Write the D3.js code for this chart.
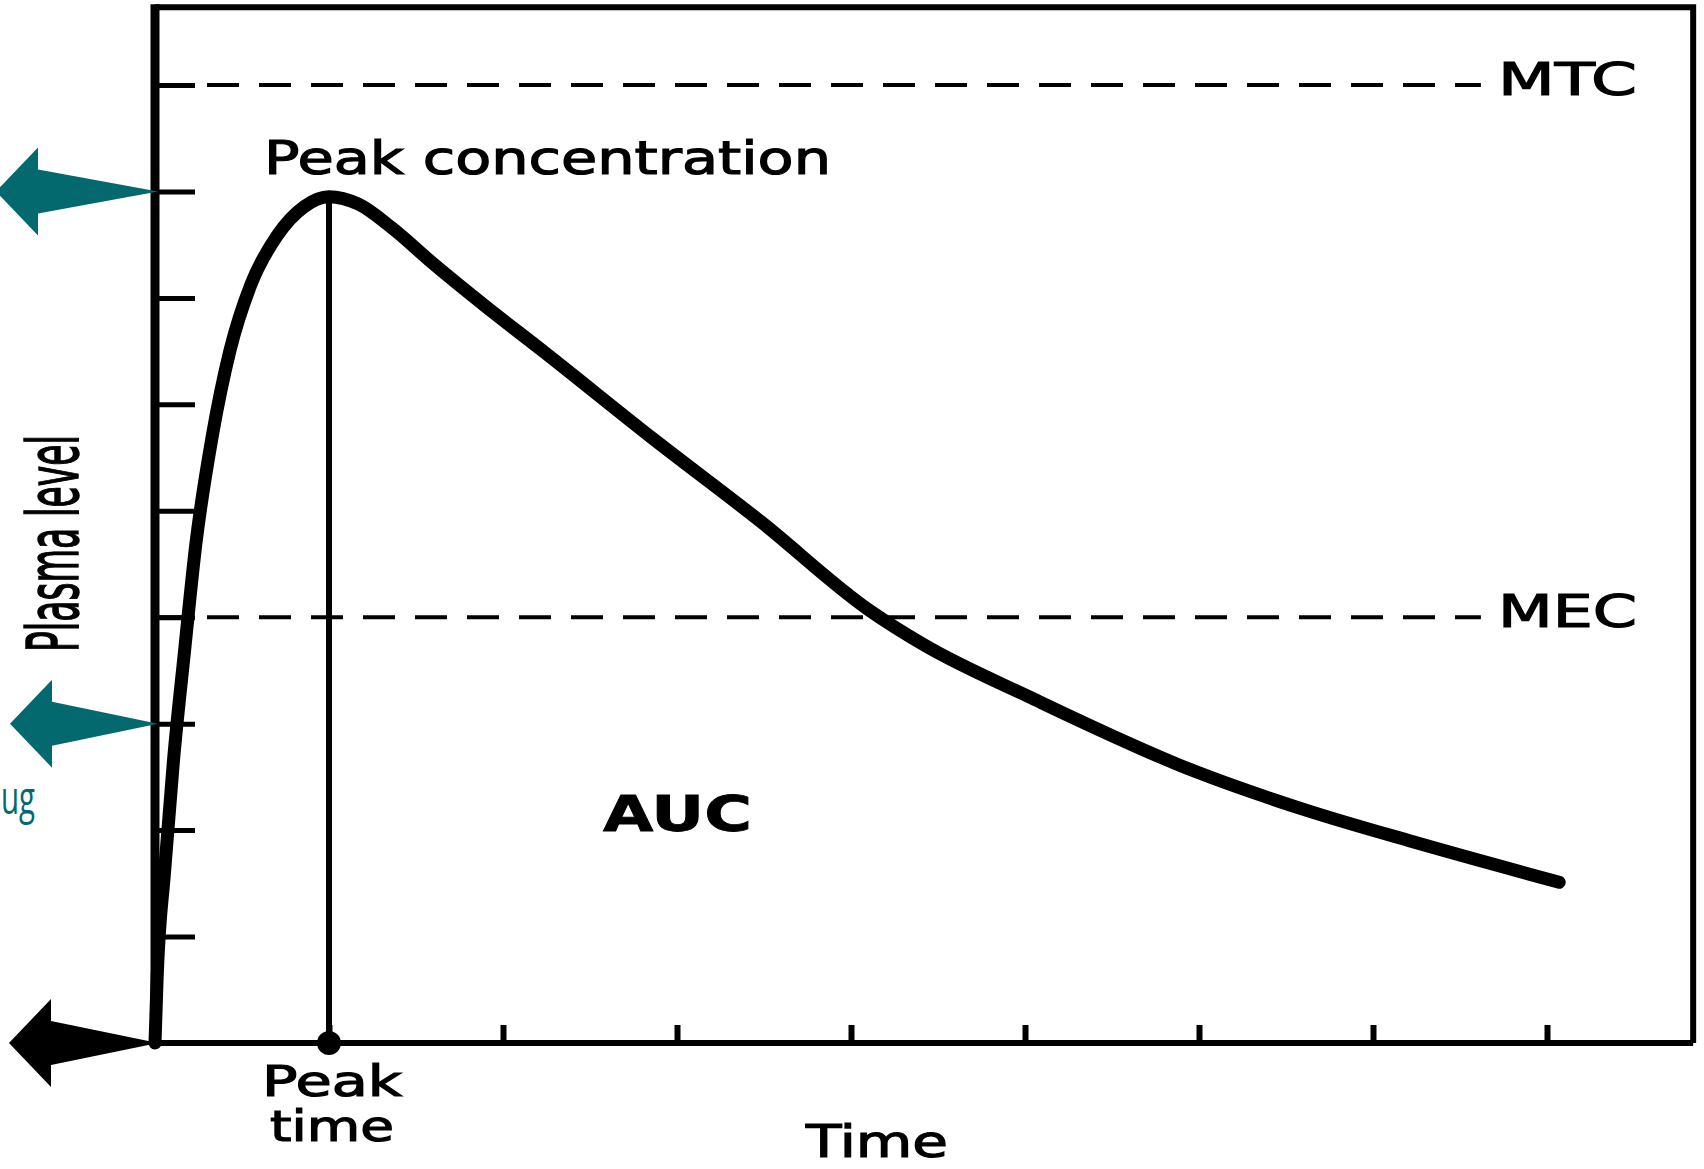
<!DOCTYPE html>
<html>
<head>
<meta charset="utf-8">
<script src="https://cdn.jsdelivr.net/npm/d3@7"></script>
<style>
  body { margin: 0; background: #fff; }
  svg { display: block; }
</style>
</head>
<body>
<script>
// Curve: time in tick units, plasma level in tick units.
const timePts = [0, 0.012, 0.056, 0.106, 0.169, 0.235, 0.33, 0.43, 0.55, 0.70, 0.86, 1.0, 1.17, 1.36, 1.6, 1.9, 2.23, 2.86, 3.48, 4.11, 4.42, 5.04, 5.98, 6.61, 7.23, 8.07];
const levels  = [0, 0.6, 1.63, 2.65, 3.67, 4.69, 5.71, 6.5, 7.12, 7.58, 7.86, 7.95, 7.88, 7.66, 7.32, 6.92, 6.50, 5.68, 4.90, 4.06, 3.74, 3.24, 2.55, 2.19, 1.89, 1.51];

const xTicks = [1, 2, 3, 4, 5, 6, 7, 8];
const yTicks = [1, 2, 3, 4, 5, 6, 7, 8, 9];
const peakTime = 1.0;
const peakLevel = 7.95;

// reference lines
const refNames = ["MTC", "MEC"];
const refLevels = [9, 4];

// arrows on the left pointing at a level
const arrowLevels = [8, 3, 0];
const arrowColors = ["#03696f", "#03696f", "#000000"];
const arrowReach = [162, 148, 149];

const width = 1704;
const height = 1169;
const teal = "#03696f";
const font = "'DejaVu Sans', sans-serif";

const x = d3.scaleLinear().domain([0, 8]).range([155, 155 + 8 * 174]);
const y = d3.scaleLinear().domain([0, 9]).range([1043, 85]);
const xMax = 8.84, yMax = 9.73;

const svg = d3.select("body").append("svg")
  .attr("width", width)
  .attr("height", height)
  .attr("viewBox", [0, 0, width, height]);

// frame: top and right
svg.append("path")
  .attr("d", `M${x(0)},${y(yMax)}H${x(xMax)}V${y(0)}`)
  .attr("fill", "none")
  .attr("stroke", "#000")
  .attr("stroke-width", 6);

// dashed reference lines
svg.append("g")
  .selectAll("line")
  .data(refLevels)
  .join("line")
  .attr("x1", x(0))
  .attr("x2", x(7.62))
  .attr("y1", d => y(d))
  .attr("y2", d => y(d))
  .attr("stroke", "#000")
  .attr("stroke-width", 4)
  .attr("stroke-dasharray", "32,20");

svg.append("g")
  .attr("font-family", font)
  .attr("font-size", 45)
  .attr("stroke", "#000")
  .attr("stroke-width", 1.2)
  .selectAll("text")
  .data(refNames)
  .join("text")
  .attr("x", 1498)
  .attr("y", (d, i) => y(refLevels[i]) + 10)
  .attr("textLength", 139)
  .attr("lengthAdjust", "spacingAndGlyphs")
  .text(d => d);

// y ticks pointing inwards
svg.append("g")
  .attr("transform", `translate(${x(0)},0)`)
  .call(d3.axisRight(y).tickValues(yTicks).tickSize(40).tickFormat(""))
  .call(g => g.select(".domain").remove())
  .call(g => g.selectAll(".tick line").attr("stroke-width", 5));

// x ticks pointing inwards
svg.append("g")
  .attr("transform", `translate(0,${y(0)})`)
  .call(d3.axisTop(x).tickValues(xTicks).tickSize(18).tickFormat(""))
  .call(g => g.select(".domain").remove())
  .call(g => g.selectAll(".tick line").attr("stroke-width", 6));

// axes lines
svg.append("line")
  .attr("x1", x(0)).attr("x2", x(xMax))
  .attr("y1", y(0)).attr("y2", y(0))
  .attr("stroke", "#000").attr("stroke-width", 6);
svg.append("line")
  .attr("x1", x(0)).attr("x2", x(0))
  .attr("y1", y(yMax) - 3).attr("y2", y(0) + 3)
  .attr("stroke", "#000").attr("stroke-width", 9);

// peak time line + dot
svg.append("line")
  .attr("x1", x(peakTime)).attr("x2", x(peakTime))
  .attr("y1", y(peakLevel)).attr("y2", y(0))
  .attr("stroke", "#000").attr("stroke-width", 6);
svg.append("circle")
  .attr("cx", x(peakTime)).attr("cy", y(0))
  .attr("r", 12).attr("fill", "#000");

// the plasma curve
const pts = timePts.map((t, i) => [t, levels[i]]);
svg.append("path")
  .datum(pts)
  .attr("fill", "none")
  .attr("stroke", "#000")
  .attr("stroke-width", 13)
  .attr("stroke-linecap", "round")
  .attr("stroke-linejoin", "round")
  .attr("d", d3.line().x(d => x(d[0])).y(d => y(d[1])).curve(d3.curveMonotoneX));

// labels
const label = (txt, px, py, size, len, weight) => svg.append("text")
  .attr("x", px).attr("y", py)
  .attr("font-family", font)
  .attr("font-size", size)
  .attr("font-weight", weight || "normal")
  .attr("stroke", "#000")
  .attr("stroke-width", weight ? 0.8 : 1.2)
  .attr("textLength", len)
  .attr("lengthAdjust", "spacingAndGlyphs")
  .text(txt);

label("Peak concentration", 264, 174, 46, 567);
label("AUC", 603, 831, 50, 149, "bold");
label("Peak", 262, 1096, 42, 140);
label("time", 270, 1141, 42, 124);
label("Time", 806, 1157, 44, 142);

svg.append("text")
  .attr("transform", "translate(78,652) rotate(-90)")
  .attr("font-family", "'DejaVu Sans Condensed', 'DejaVu Sans', sans-serif")
  .attr("font-size", 72)
  .attr("stroke", "#000")
  .attr("stroke-width", 1.5)
  .attr("textLength", 217)
  .attr("lengthAdjust", "spacingAndGlyphs")
  .text("Plasma level");

// arrows: tip at the axis, head on the left
const arrowPath = (lvl, reach) => {
  const tx = x(0) + 3, ty = y(lvl), b = reach - 42;
  const shape = [[0, 0], [-b, -22], [-b, -44], [-reach, 0], [-b, 44], [-b, 22]];
  return "M" + shape.map(p => [tx + p[0], ty + p[1]].join(",")).join("L") + "Z";
};
svg.append("g")
  .selectAll("path")
  .data(arrowLevels)
  .join("path")
  .attr("fill", (d, i) => arrowColors[i])
  .attr("d", (d, i) => arrowPath(d, arrowReach[i]));

// cut-off teal caption
svg.append("text")
  .attr("x", 1).attr("y", 814)
  .attr("font-family", "'Open Sans', sans-serif")
  .attr("font-size", 46)
  .attr("fill", teal)
  .attr("textLength", 34)
  .attr("lengthAdjust", "spacingAndGlyphs")
  .text("ug");
</script>
</body>
</html>
